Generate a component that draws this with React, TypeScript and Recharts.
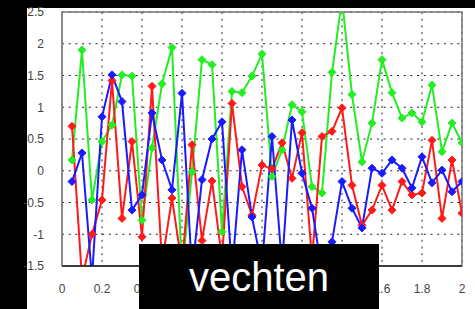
import React from 'react';
import { LineChart, Line, XAxis, YAxis, CartesianGrid, ReferenceArea } from 'recharts';

const xValues = [0.05, 0.1, 0.15, 0.2, 0.25, 0.3, 0.35, 0.4, 0.45, 0.5, 0.55, 0.6, 0.65, 0.7, 0.75, 0.8, 0.85, 0.9, 0.95, 1.0,
  1.05, 1.1, 1.15, 1.2, 1.25, 1.3, 1.35, 1.4, 1.45, 1.5, 1.55, 1.6, 1.65, 1.7, 1.75, 1.8, 1.85, 1.9, 1.95, 2.0];

const greenValues = [0.17, 1.9, -0.46, 0.46, 0.72, 1.51, 1.49, -0.78, 0.36, 1.37, 1.94, -1.6, -0.02, 1.75, 1.67, -0.96, 1.25, 1.23, 1.49, 1.84,
  -0.09, 0.33, 1.04, 0.93, -0.25, -0.35, 1.55, 2.7, 1.2, 0.14, 0.75, 1.75, 1.23, 0.83, 0.91, 0.77, 1.35, 0.3, 0.75, 0.44];

const redValues = [0.7, -1.7, -1.0, -0.46, 1.42, -0.75, 0.46, -1.04, 1.33, -1.45, -0.43, -1.5, 0.41, -1.1, -0.16, -1.4, 1.06, -0.25, -0.7, 0.09,
  0.03, 0.44, -0.12, 0.6, -1.4, 0.54, 0.62, 0.99, -0.23, -0.86, -0.62, -0.23, -0.62, -0.17, -0.38, -0.35, 0.48, -0.75, 0.17, -0.67];

const blueValues = [-0.17, 0.28, -1.7, 0.85, 1.51, 1.09, -0.62, -0.38, 0.91, 0.17, -0.3, 1.22, -1.6, -0.14, 0.5, 0.77, -1.6, 0.33, -0.73, -1.5,
  0.54, -1.5, 0.8, -0.04, -0.59, -1.6, -1.12, -0.17, -0.59, -0.9, 0.04, -0.04, 0.17, 0.04, -0.27, 0.22, -0.19, 0.01, -0.33, -0.17];

const xTicks = [0, 0.2, 0.4, 0.6, 0.8, 1, 1.2, 1.4, 1.6, 1.8, 2];
const xTickLabels = ['0', '0.2', '0.4', '0.6', '0.8', '1', '1.2', '1.4', '1.6', '1.8', '2'];
const yTicks = [-1.5, -1, -0.5, 0, 0.5, 1, 1.5, 2, 2.5];
const yTickLabels = ['-1.5', '-1', '-0.5', '0', '0.5', '1', '1.5', '2', '2.5'];

const captionText = 'vechten';

const data = xValues.map((x, i) => ({ x, g: greenValues[i], r: redValues[i], b: blueValues[i] }));

const makeDot = (color: string) => (props: any) => {
  const { cx, cy, index } = props;
  if (cx == null || cy == null) return <g key={index} />;
  const s = 4;
  return (
    <polygon
      key={index}
      points={`${cx},${cy - s} ${cx + s},${cy} ${cx},${cy + s} ${cx - s},${cy}`}
      fill={color}
      stroke={color}
      strokeWidth={1}
    />
  );
};

const fmtX = (v: number) => {
  const i = xTicks.findIndex((t) => Math.abs(t - v) < 1e-9);
  return i >= 0 ? xTickLabels[i] : String(v);
};
const fmtY = (v: number) => {
  const i = yTicks.findIndex((t) => Math.abs(t - v) < 1e-9);
  return i >= 0 ? yTickLabels[i] : String(v);
};

export default function App() {
  return (
    <div style={{ position: 'absolute', left: 0, top: 0, width: 475, height: 309, background: '#000', overflow: 'hidden' }}>
      <div style={{ position: 'absolute', left: 27, top: 8, width: 448, height: 301, background: '#fff' }} />
      <div style={{ position: 'absolute', left: 0, top: 0 }}>
        <LineChart width={475} height={309} data={data} margin={{ top: 12, right: 13, bottom: 13, left: 0 }}>
          <CartesianGrid stroke="#222" strokeDasharray="2 4.7" />
          <XAxis
            dataKey="x"
            type="number"
            domain={[0, 2]}
            ticks={xTicks}
            tickFormatter={fmtX}
            allowDataOverflow
            height={30}
            tickLine={false}
            tickMargin={12}
            axisLine={{ stroke: '#222', strokeWidth: 1.5 }}
            tick={{ fill: '#444', fontSize: 12, fontFamily: 'Liberation Sans, Arial, sans-serif' }}
          />
          <YAxis
            type="number"
            domain={[-1.5, 2.5]}
            ticks={yTicks}
            tickFormatter={fmtY}
            allowDataOverflow
            width={62}
            tickLine={false}
            tickMargin={12}
            axisLine={{ stroke: '#888', strokeWidth: 2 }}
            tick={{ fill: '#444', fontSize: 12, fontFamily: 'Liberation Sans, Arial, sans-serif' }}
          />
          <ReferenceArea x1={0} x2={2} y1={-1.5} y2={2.5} fill="none" stroke="#777" strokeWidth={1.5} ifOverflow="extendDomain" />
          <Line dataKey="g" stroke="#22ee22" strokeWidth={2} dot={makeDot('#22ee22')} isAnimationActive={false} />
          <Line dataKey="r" stroke="#ff1a1a" strokeWidth={2} dot={makeDot('#ff1a1a')} isAnimationActive={false} />
          <Line dataKey="b" stroke="#1a1aff" strokeWidth={2} dot={makeDot('#1a1aff')} isAnimationActive={false} />
        </LineChart>
      </div>
      <div style={{ position: 'absolute', left: 139, top: 244, width: 240, height: 65, background: '#000' }}>
        <div style={{ position: 'absolute', left: 0, top: 10, width: 240, textAlign: 'center', color: '#fff', fontSize: 40, lineHeight: '46px', fontFamily: 'Liberation Sans, Arial, sans-serif' }}>
          {captionText}
        </div>
      </div>
    </div>
  );
}
